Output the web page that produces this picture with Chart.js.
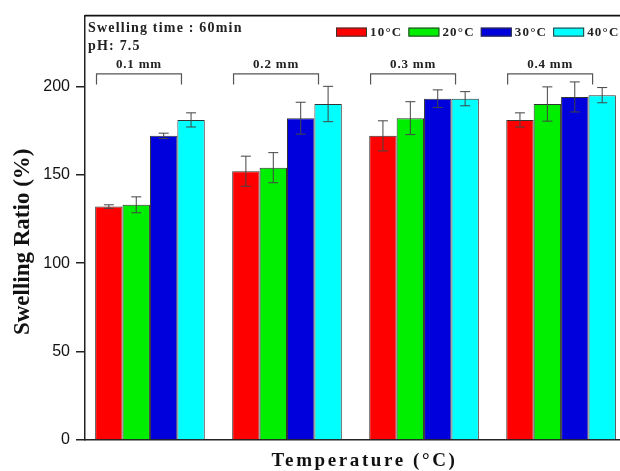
<!DOCTYPE html>
<html>
<head>
<meta charset="utf-8">
<script src="https://cdn.jsdelivr.net/npm/chart.js@4/dist/chart.umd.min.js"></script>
<style>
  html,body{margin:0;padding:0;background:#fff;overflow:hidden;}
  #wrap{width:620px;height:471px;position:relative;}
</style>
</head>
<body>
<div id="wrap"><canvas id="c" width="620" height="471"></canvas></div>
<script>
// ---- data ----
const groups = ['0.1 mm', '0.2 mm', '0.3 mm', '0.4 mm'];
const seriesLabels = ['10°C', '20°C', '30°C', '40°C'];
const ratio10 = [132, 152, 172, 181];
const ratio20 = [133, 154, 182, 190];
const ratio30 = [172, 182, 193, 194];
const ratio40 = [181, 190, 193, 195];
const err10 = [1, 8.5, 8.5, 4];
const err20 = [4.5, 8.5, 9.3, 9.7];
const err30 = [1.5, 9, 5, 8.5];
const err40 = [4, 10, 4, 4.3];
const yTickValues = [0, 50, 100, 150, 200];
const infoLines = ['Swelling time : 60min', 'pH: 7.5'];

const seriesValues = [ratio10, ratio20, ratio30, ratio40];
const seriesErrors = [err10, err20, err30, err40];
const seriesColors = ['#ff0000', '#00ee00', '#0000dd', '#00ffff'];

const SERIF = '"Liberation Serif", "Times New Roman", serif';
const SANS = '"Liberation Sans", Arial, sans-serif';

const datasets = seriesLabels.map((lab, di) => ({
  label: lab,
  data: seriesValues[di].map((v, i) => ({ x: i, y: v })),
  errors: seriesErrors[di],
  backgroundColor: seriesColors[di],
  borderColor: '#333',
  borderWidth: 1,
  borderSkipped: 'bottom',
  categoryPercentage: 0.8,
  barPercentage: 1.0
}));

// Wrap axis title drawing for letter spacing / offsets
const titleTweaks = {
  id: 'titleTweaks',
  beforeDraw(chart) {
    const sx = chart.scales.x, sy = chart.scales.y;
    if (!sx.__tw) {
      const ox = sx.drawTitle.bind(sx);
      sx.drawTitle = function () {
        const c = this.ctx; c.save(); c.letterSpacing = '2.6px'; c.translate(12, 2); ox(); c.restore();
      };
      sx.__tw = true;
    }
    if (!sy.__tw) {
      const oy = sy.drawTitle.bind(sy);
      sy.drawTitle = function () {
        const c = this.ctx; c.save(); c.translate(0, 14); oy(); c.restore();
      };
      sy.__tw = true;
    }
  }
};

const annotations = {
  id: 'annotations',
  afterDatasetsDraw(chart) {
    const { ctx, chartArea: a, scales: { x, y } } = chart;
    ctx.save();
    // error bars
    chart.data.datasets.forEach((ds, di) => {
      const meta = chart.getDatasetMeta(di);
      meta.data.forEach((bar, i) => {
        const v = ds.data[i].y, e = ds.errors[i];
        const yt = y.getPixelForValue(v + e), yb = y.getPixelForValue(v - e);
        ctx.strokeStyle = '#444';
        ctx.lineWidth = 1;
        ctx.beginPath();
        ctx.moveTo(bar.x, yt); ctx.lineTo(bar.x, yb);
        ctx.moveTo(bar.x - 5, yt); ctx.lineTo(bar.x + 5, yt);
        ctx.moveTo(bar.x - 5, yb); ctx.lineTo(bar.x + 5, yb);
        ctx.stroke();
      });
    });
    // group brackets with labels
    groups.forEach((g, i) => {
      const x1 = x.getPixelForValue(i - 0.39), x2 = x.getPixelForValue(i + 0.23);
      const yTop = y.getPixelForValue(207), yLeg = y.getPixelForValue(201);
      ctx.strokeStyle = '#555';
      ctx.lineWidth = 1.2;
      ctx.beginPath();
      ctx.moveTo(x1, yLeg); ctx.lineTo(x1, yTop); ctx.lineTo(x2, yTop); ctx.lineTo(x2, yLeg);
      ctx.stroke();
      ctx.fillStyle = '#222';
      ctx.font = 'bold 13px ' + SERIF;
      ctx.letterSpacing = '0.8px';
      ctx.textAlign = 'center';
      ctx.textBaseline = 'middle';
      ctx.fillText(g, (x1 + x2) / 2, yTop - 9);
    });
    // top frame line
    ctx.strokeStyle = '#111';
    ctx.lineWidth = 1.8;
    ctx.beginPath();
    ctx.moveTo(a.left, a.top); ctx.lineTo(a.right, a.top);
    ctx.stroke();
    // info text
    ctx.fillStyle = '#222';
    ctx.font = 'bold 14px ' + SERIF;
    ctx.letterSpacing = '1.2px';
    ctx.textAlign = 'left';
    ctx.textBaseline = 'middle';
    infoLines.forEach((t, k) => ctx.fillText(t, a.left + 3, a.top + 13 + k * 18));
    // legend (top right, inside plot)
    ctx.font = 'bold 13px ' + SERIF;
    ctx.letterSpacing = '1.2px';
    let lx = a.right - 284;
    const ly = a.top + 12;
    chart.data.datasets.forEach(ds => {
      ctx.fillStyle = ds.backgroundColor;
      ctx.strokeStyle = '#333';
      ctx.lineWidth = 1;
      ctx.fillRect(lx, ly, 31, 9);
      ctx.strokeRect(lx + 0.5, ly + 0.5, 30, 8);
      ctx.fillStyle = '#222';
      ctx.fillText(ds.label, lx + 34, ly + 5);
      lx += 34 + ctx.measureText(ds.label).width + 6;
    });
    ctx.restore();
  }
};

new Chart(document.getElementById('c'), {
  type: 'bar',
  data: { datasets },
  options: {
    responsive: false,
    animation: false,
    events: [],
    layout: { padding: { top: 14, left: 0, right: 0, bottom: 0 } },
    plugins: {
      tooltip: { enabled: false },
      legend: { display: false }
    },
    scales: {
      x: {
        type: 'linear',
        offset: false,
        min: -0.474,
        max: 3.43,
        afterBuildTicks: s => { s.ticks = groups.map((g, i) => ({ value: i })); },
        afterFit: s => { s.height = 31; },
        ticks: { display: false },
        grid: { display: false },
        border: { display: true, color: '#222', width: 1.5 },
        title: {
          display: true,
          text: 'Temperature (°C)',
          color: '#111',
          font: { family: SERIF, size: 19, weight: 'bold' },
          padding: { top: 0, bottom: 1 }
        }
      },
      y: {
        min: 0,
        max: 240,
        afterBuildTicks: s => { s.ticks = yTickValues.map(v => ({ value: v })); },
        afterFit: s => { s.width = 85; },
        ticks: { color: '#111', padding: 6, font: { family: SANS, size: 16 } },
        grid: { display: true, drawOnChartArea: false, drawTicks: true, tickLength: 9, color: '#222', lineWidth: 1.5 },
        border: { display: true, color: '#222', width: 1.5 },
        title: {
          display: true,
          text: 'Swelling Ratio (%)',
          color: '#111',
          font: { family: SERIF, size: 23, weight: 'bold' },
          padding: { top: 9, bottom: 0 }
        }
      }
    }
  },
  plugins: [titleTweaks, annotations]
});
</script>
</body>
</html>
